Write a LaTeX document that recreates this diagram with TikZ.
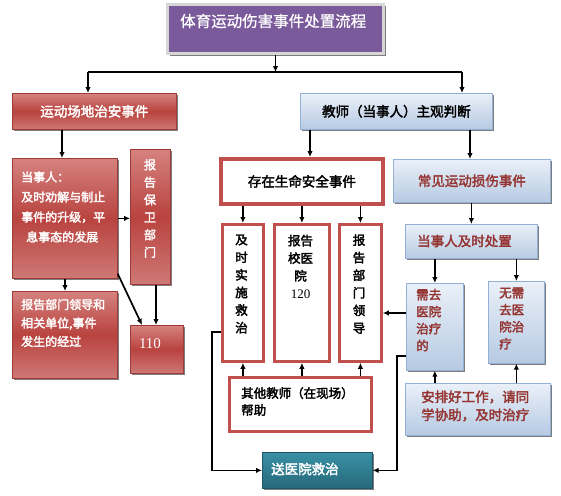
\documentclass[tikz,border=0pt]{standalone}
\usepackage{fontspec}
\setmainfont{Liberation Serif}
\newfontfamily\cjk[FakeBold=0.8]{Noto Sans CJK SC}
\newfontfamily\cjkb[FakeBold=2.6]{Noto Sans CJK SC}
\usetikzlibrary{arrows.meta,shadows}
\definecolor{redT}{HTML}{D5827F}
\definecolor{redM}{HTML}{B9433F}
\definecolor{redB}{HTML}{CE7875}
\definecolor{redE}{HTML}{9E3A37}
\definecolor{redL}{HTML}{C0504D}
\definecolor{bluT}{HTML}{EAF0F8}
\definecolor{bluB}{HTML}{B6CAE3}
\definecolor{bluE}{HTML}{93B1D6}
\definecolor{dred}{HTML}{953532}
\definecolor{tealT}{HTML}{3A90A5}
\definecolor{tealB}{HTML}{26697A}
\definecolor{tealE}{HTML}{1D5665}
\definecolor{purp}{HTML}{7A5A9A}
\definecolor{purpE}{HTML}{D6D6D6}
\newcommand\bx[7]{\node[#1,anchor=north west,minimum width={(#5-#3)*1pt},minimum height={(#6-#4)*1pt}] (#2) at (#3,#4) {#7};}
\newcommand\fsz[2]{\fontsize{#1}{#2}\selectfont}
\begin{document}
\begin{tikzpicture}[x=1pt,y=-1pt,
  >={Latex[length=6pt,width=5.5pt]},
  arr/.style={->,line width=1.7pt,black},
  ln/.style={line width=1.7pt,black},
  shad/.style={drop shadow={shadow xshift=2pt,shadow yshift=-2pt,fill=black!60,opacity=0.85}},
  redbox/.style={shad,draw=redE,line width=0.7pt,top color=redT,bottom color=redB,middle color=redM,inner sep=0pt,text=white,font=\cjkb\fsz{13.5}{16}},
  blubox/.style={shad,draw=bluE,line width=0.7pt,top color=bluT,bottom color=bluB,inner sep=0pt,font=\cjkb\fsz{13.5}{16}},
  wbox/.style={draw=redL,line width=2.8pt,fill=white,inner sep=0pt},
  tealbox/.style={shad,draw=tealE,line width=0.7pt,top color=tealT,bottom color=tealB,inner sep=0pt},
  titlebox/.style={shad,draw=purpE,line width=3pt,fill=purp,inner sep=0pt},
  txt/.style={inner sep=0pt,align=left},
  ctxt/.style={inner sep=0pt,align=center}]
\useasboundingbox (0,0) rectangle (561,495);
% title
\bx{titlebox}{T}{166}{3}{382}{52}{}
\node[txt,anchor=west,text=white,font=\cjk\fsz{15.5}{18}] (Tt) at (180,21) {体育运动伤害事件处置流程};
% top level
\bx{redbox}{A}{12}{93}{176}{129}{运动场地治安事件}
\bx{blubox}{B}{300}{93}{492}{129}{教师（当事人）主观判断}
% left column
\bx{redbox}{C}{12}{158}{117}{278}{}
\node[txt,anchor=west,text=white,font=\cjkb\fsz{12}{20}] (Ct) at (21,207) {当事人：\\及时劝解与制止\\事件的升级，平\\\hspace{5pt}息事态的发展};
\bx{redbox}{D}{130}{149}{170}{284}{}
\node[ctxt,text=white,font=\cjkb\fsz{12}{17.5}] (Dt) at (150,208.5) {报\\告\\保\\卫\\部\\门};
\bx{redbox}{E}{12}{291}{117}{378}{}
\node[txt,anchor=west,text=white,font=\cjkb\fsz{12}{18.5}] (Et) at (21,323) {报告部门领导和\\相关单位,事件\\发生的经过};
\bx{redbox}{F}{130}{325}{183}{373}{}
\node[txt,text=white,font=\fsz{15}{15}] (Ft) at (150,344) {110};
% middle column
\bx{wbox}{G}{219}{157}{382}{203}{}
\draw[redL,line width=0.9pt] ([shift={(3.6,3.6)}]G.north west) rectangle ([shift={(-3.6,-3.6)}]G.south east);
\node[ctxt,font=\cjkb\fsz{13.5}{16}] (Gt) at (G.center) {存在生命安全事件};
\bx{wbox}{H1}{221}{223}{262}{360}{}
\node[ctxt,font=\cjkb\fsz{12.5}{17.6}] (H1t) at (241.5,284) {及\\时\\实\\施\\救\\治};
\bx{wbox}{H2}{273}{223}{328}{360}{}
\node[ctxt,font=\cjkb\fsz{12.5}{17.6}] (H2t) at (300.5,266.5) {报告\\校医\\院\\{\rmfamily\fsz{13}{17.6}120}};
\bx{wbox}{H3}{338}{223}{380}{360}{}
\node[ctxt,font=\cjkb\fsz{12.5}{17.6}] (H3t) at (359,284) {报\\告\\部\\门\\领\\导};
\bx{wbox}{I}{228}{376}{370}{430}{}
\node[txt,anchor=west,font=\cjkb\fsz{12.5}{17}] (It) at (241,401.5) {其他教师（在现场）\\帮助};
\bx{tealbox}{J}{262}{452}{372}{488}{}
\node[txt,anchor=west,text=white,font=\cjkb\fsz{13.5}{16}] (Jt) at (271,469) {送医院救治};
% right column
\bx{blubox}{L}{393}{159}{550}{202}{\textcolor{dred}{常见运动损伤事件}}
\bx{blubox}{M}{405}{224}{537}{258}{}
\node[txt,text=dred,font=\cjkb\fsz{13.5}{16}] (Mt) at (464.5,241) {当事人及时处置};
\bx{blubox}{K1}{406}{283}{463}{370}{}
\node[txt,anchor=west,text=dred,font=\cjkb\fsz{12.5}{17}] (K1t) at (416,320) {需去\\医院\\治疗\\的};
\bx{blubox}{K2}{488}{281}{544}{363}{}
\node[txt,anchor=west,text=dred,font=\cjkb\fsz{12.5}{17}] (K2t) at (499,318.5) {无需\\去医\\院治\\疗};
\bx{blubox}{N}{405}{383}{550}{435}{}
\node[txt,anchor=west,text=dred,font=\cjkb\fsz{13.5}{18}] (Nt) at (421,406) {安排好工作，请同\\学协助，及时治疗};
% connectors
\coordinate (jl) at (88,72);
\coordinate (jr) at (462,72);
\draw[arr] (T.south) -- (T.south |- jl);
\draw[ln] (jl) -- (jr);
\draw[arr] (jl) -- (jl |- A.north);
\draw[arr] (jr) -- (jr |- B.north);
\draw[arr] ([xshift=50pt]A.south west) -- ([xshift=50pt]C.north west);
\draw[arr] (C.east) -- (C.east -| D.west);
\draw[arr] ([xshift=53pt]C.south west) -- ([xshift=53pt]E.north west);
\draw[arr] ([yshift=5pt]C.south east) -- ([xshift=12pt]F.north west);
\draw[arr] ([xshift=26pt]D.south west) -- ([xshift=26pt]F.north west);
\draw[arr] ([xshift=10pt]B.south west) -- ([xshift=91pt]G.north west);
\draw[arr] ([xshift=170pt]B.south west) -- ([xshift=77pt]L.north west);
\draw[arr] (H1.north |- G.south) -- (H1.north);
\draw[arr] (H2.north |- G.south) -- (H2.north);
\draw[arr] (H3.north |- G.south) -- (H3.north);
\draw[arr] (H1.south |- I.north) -- (H1.south);
\draw[arr] (H2.south |- I.north) -- (H2.south);
\draw[arr] (H3.south |- I.north) -- (H3.south);
\draw[arr] (M.north |- L.south) -- (M.north);
\draw[arr] (K1.north |- M.south) -- (K1.north);
\draw[arr] (K2.north |- M.south) -- (K2.north);
\draw[arr] (K1.south |- N.north) -- (K1.south);
\draw[arr] (K2.south |- N.north) -- (K2.south);
\draw[arr] ([yshift=-30pt]K1.north west) -- ([yshift=-90pt]H3.north east);
\draw[arr] ([yshift=-109pt]H1.north west) -- ++(-9,0) |- (J.west);
\draw[arr] ([yshift=15pt]K1.south west) -- ++(-9,0) |- (J.east);
\end{tikzpicture}
\end{document}
